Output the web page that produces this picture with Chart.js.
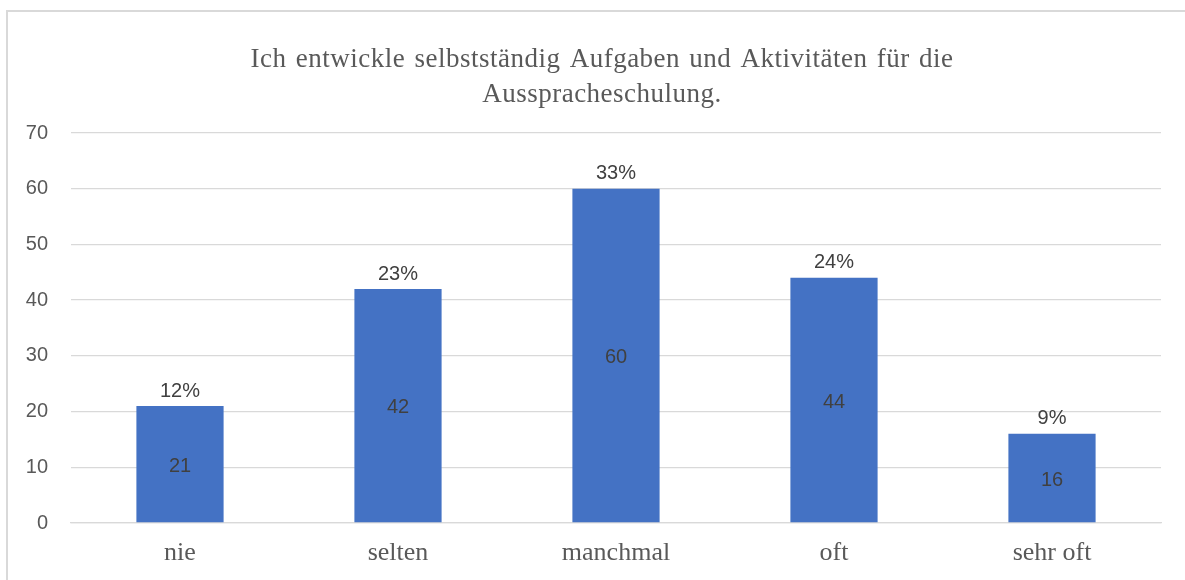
<!DOCTYPE html>
<html>
<head>
<meta charset="utf-8">
<script src="https://cdn.jsdelivr.net/npm/chart.js@4"></script>
<style>
  html, body { margin: 0; padding: 0; background: #fff; overflow: hidden; }
</style>
</head>
<body>
<canvas id="chart" width="1185" height="580"></canvas>
<script>
// data
let categories = ['nie', 'selten', 'manchmal', 'oft', 'sehr oft'];
let counts = [21, 42, 60, 44, 16];
let percents = ['12%', '23%', '33%', '24%', '9%'];
let titleLines = ['Ich entwickle selbstständig Aufgaben und Aktivitäten für die', 'Ausspracheschulung.'];
let yTicks = [0, 10, 20, 30, 40, 50, 60, 70];

let sans = '"Liberation Sans", Arial, sans-serif';
let serif = '"Liberation Serif", "Times New Roman", serif';

// frame + title + labels on the bars
let decor = {
  id: 'decor',
  beforeDraw(chart) {
    let ctx = chart.ctx;
    ctx.save();
    ctx.strokeStyle = '#d9d9d9';
    ctx.lineWidth = 2;
    ctx.strokeRect(7, 11, 1230, 640);
    ctx.fillStyle = '#595959';
    ctx.font = '27px ' + serif;
    ctx.letterSpacing = '0.5px';
    ctx.wordSpacing = '2px';
    ctx.textAlign = 'center';
    ctx.textBaseline = 'middle';
    ctx.fillText(titleLines[0], 602, 60);
    ctx.fillText(titleLines[1], 602, 95);
    ctx.restore();
  },
  afterDatasetsDraw(chart) {
    let ctx = chart.ctx;
    let meta = chart.getDatasetMeta(0);
    ctx.save();
    ctx.fillStyle = '#404040';
    ctx.font = '20px ' + sans;
    ctx.textAlign = 'center';
    ctx.textBaseline = 'middle';
    meta.data.forEach((bar, i) => {
      ctx.fillText(String(counts[i]), bar.x, (bar.y + bar.base) / 2 + 2);
      ctx.fillText(percents[i], bar.x, bar.y - 15);
    });
    ctx.restore();
  },
};

let chart = new Chart(document.querySelector('#chart').getContext('2d'), {
  type: 'bar',
  data: {
    labels: categories,
    datasets: [
      {
        data: counts,
        backgroundColor: '#4472c4',
        borderWidth: 0,
        barPercentage: 0.4,
        categoryPercentage: 1,
      },
    ],
  },
  options: {
    responsive: false,
    animation: false,
    layout: { padding: { top: 133, right: 24, bottom: 0, left: 0 } },
    plugins: {
      legend: { display: false },
      title: { display: false },
      tooltip: { enabled: false },
    },
    scales: {
      x: {
        grid: { display: false, drawTicks: false },
        border: { color: '#d9d9d9', width: 1.3 },
        ticks: { color: '#595959', font: { family: serif, size: 26 }, padding: 15 },
        afterFit(scale) { scale.height = 57; },
      },
      y: {
        min: 0,
        max: 70,
        afterBuildTicks(scale) { scale.ticks = yTicks.map((v) => ({ value: v })); },
        grid: { color: '#d9d9d9', lineWidth: 1.3, drawTicks: false },
        border: { display: false },
        ticks: { color: '#595959', font: { family: sans, size: 20 }, padding: 23 },
        afterFit(scale) { scale.width = 71; },
      },
    },
  },
  plugins: [decor],
});
</script>
</body>
</html>
